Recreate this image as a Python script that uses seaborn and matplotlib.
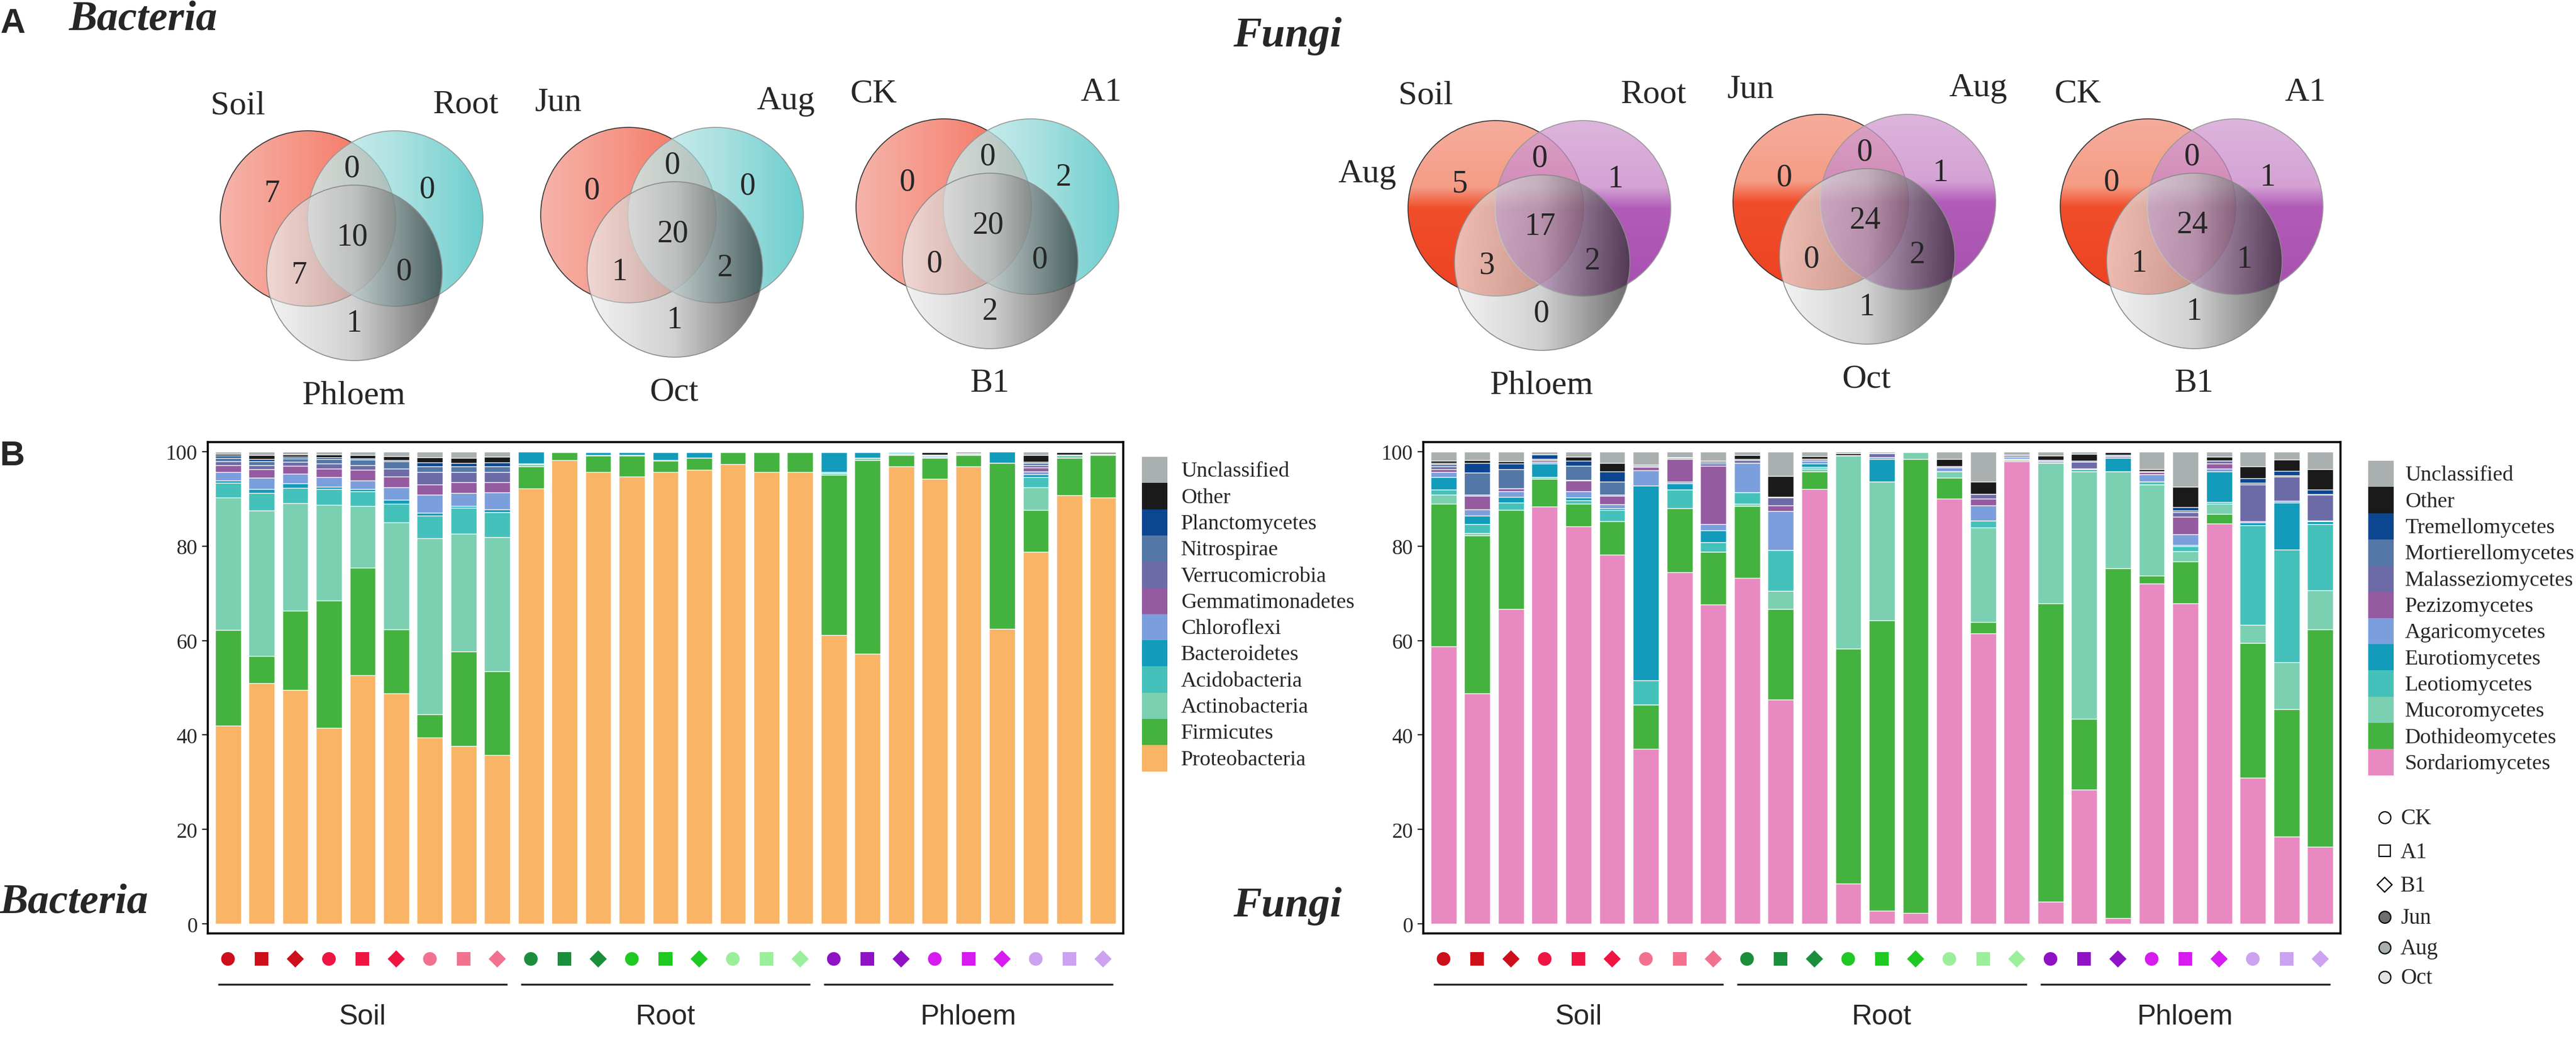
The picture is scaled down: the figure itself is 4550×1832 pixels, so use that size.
import numpy as np
import pandas as pd
import matplotlib
matplotlib.use("Agg")
import matplotlib.pyplot as plt
import seaborn as sns
from matplotlib.patches import Circle, Rectangle
from matplotlib.colors import LinearSegmentedColormap

# ---------------- sample design ----------------
tissues = ["Soil", "Root", "Phloem"]
months = ["Jun", "Aug", "Oct"]
treatments = ["CK", "A1", "B1"]

# ---------------- Venn counts ----------------
# order: left only, left&right, right only, all three, left&bottom, right&bottom, bottom only
bac_venn_labels = [["Soil", "Root", "Phloem"], ["Jun", "Aug", "Oct"], ["CK", "A1", "B1"]]
bac_venn_counts = [[7, 0, 0, 10, 7, 0, 1], [0, 0, 0, 20, 1, 2, 1], [0, 0, 2, 20, 0, 0, 2]]
fun_venn_labels = [["Soil", "Root", "Phloem"], ["Jun", "Aug", "Oct"], ["CK", "A1", "B1"]]
fun_venn_counts = [[5, 0, 1, 17, 3, 2, 0], [0, 0, 1, 24, 0, 2, 1], [0, 0, 1, 24, 1, 1, 1]]

# ---------------- bacteria relative abundance (%) ----------------
bac_taxa = ["Proteobacteria", "Firmicutes", "Actinobacteria", "Acidobacteria",
            "Bacteroidetes", "Chloroflexi", "Gemmatimonadetes", "Verrucomicrobia",
            "Nitrospirae", "Planctomycetes", "Other", "Unclassified"]
proteobacteria = [42.0, 51.0, 49.5, 41.5, 52.6, 48.8, 39.4, 37.6, 35.8,
                  92.2, 98.2, 95.6, 94.7, 95.6, 96.1, 97.3, 95.6, 95.7,
                  61.2, 57.2, 96.9, 94.2, 96.8, 62.5, 78.8, 90.7, 90.3]
firmicutes = [20.2, 5.7, 16.8, 27.0, 22.8, 13.6, 5.0, 20.1, 17.7,
              4.6, 1.6, 3.5, 4.4, 2.4, 2.6, 2.5, 4.2, 4.1,
              33.8, 41.0, 2.3, 4.4, 2.5, 35.1, 8.8, 8.0, 9.0]
actinobacteria = [28.1, 30.8, 22.8, 20.2, 13.1, 22.6, 37.2, 24.9, 28.4,
                  0.5, 0, 0, 0.2, 0.2, 0, 0, 0, 0,
                  0.4, 0.4, 0.3, 0.3, 0.2, 0, 4.8, 0.5, 0.2]
acidobacteria = [3.1, 3.7, 3.2, 3.4, 3.1, 4.0, 4.8, 5.5, 5.2,
                 0.2, 0, 0.2, 0, 0, 0, 0, 0, 0,
                 0.2, 0, 0.1, 0.2, 0, 0, 2.2, 0.1, 0]
bacteroidetes = [0.4, 0.8, 0.9, 0.4, 0.4, 0.8, 0.6, 0.4, 0.6,
                 2.5, 0, 0.5, 0.5, 1.6, 1.1, 0, 0, 0,
                 4.2, 1.2, 0.2, 0.2, 0, 2.4, 0.6, 0, 0]
chloroflexi = [1.9, 2.4, 2.1, 2.1, 1.8, 2.6, 3.8, 2.7, 3.6,
               0, 0, 0, 0, 0, 0, 0, 0, 0,
               0, 0, 0, 0, 0, 0, 0.6, 0, 0]
gemmatimonadetes = [1.4, 1.8, 1.7, 1.8, 2.3, 2.3, 2.2, 2.3, 2.2,
                    0, 0, 0, 0, 0, 0, 0, 0, 0,
                    0, 0, 0, 0, 0, 0, 0.8, 0, 0]
verrucomicrobia = [0.8, 0.9, 0.8, 1.1, 1.0, 1.7, 2.7, 2.2, 2.2,
                   0, 0, 0, 0, 0, 0, 0, 0, 0,
                   0, 0, 0, 0, 0, 0, 0.5, 0, 0]
nitrospirae = [0.8, 0.8, 0.7, 0.9, 1.2, 1.5, 1.1, 1.1, 1.2,
               0, 0, 0, 0, 0, 0, 0, 0, 0,
               0, 0, 0, 0, 0, 0, 0.5, 0, 0]
planctomycetes = [0.4, 0.5, 0.4, 0.4, 0.2, 0.3, 0.9, 0.8, 0.8,
                  0, 0, 0, 0, 0, 0, 0, 0, 0,
                  0, 0, 0, 0, 0, 0, 0.2, 0, 0]
bac_other = [0.4, 0.8, 0.5, 0.6, 0.7, 0.8, 1.1, 1.1, 1.2,
             0, 0, 0, 0, 0, 0, 0, 0, 0,
             0, 0, 0, 0.5, 0, 0, 1.4, 0.5, 0.4]
bac_unclassified = [0.5, 0.8, 0.6, 0.6, 0.8, 1.0, 1.2, 1.3, 1.1,
                    0, 0.2, 0.2, 0.2, 0.2, 0.2, 0.2, 0.2, 0.2,
                    0.2, 0.2, 0.2, 0.2, 0.5, 0, 0.8, 0.2, 0.1]

# ---------------- fungi relative abundance (%) ----------------
fun_taxa = ["Sordariomycetes", "Dothideomycetes", "Mucoromycetes", "Leotiomycetes",
            "Eurotiomycetes", "Agaricomycetes", "Pezizomycetes", "Malasseziomycetes",
            "Mortierellomycetes", "Tremellomycetes", "Other", "Unclassified"]
sordariomycetes = [58.7, 48.8, 66.6, 88.4, 84.2, 78.1, 37.1, 74.4, 67.6,
                   73.2, 47.5, 92.1, 8.5, 2.8, 2.3, 90.0, 61.5, 97.9,
                   4.7, 28.4, 1.2, 72.0, 67.9, 84.7, 30.9, 18.5, 16.3]
dothideomycetes = [30.2, 33.4, 21.0, 5.8, 4.8, 7.1, 9.3, 13.6, 11.2,
                   15.3, 19.2, 3.7, 49.8, 61.5, 96.1, 4.5, 2.4, 0.3,
                   63.1, 15.0, 74.1, 1.7, 8.8, 2.1, 28.6, 27.0, 46.0]
mucoromycetes = [2.0, 0.5, 0, 0.4, 0, 0, 0, 0, 0,
                 0.5, 3.8, 0.6, 40.8, 29.3, 1.4, 1.3, 20.0, 0.2,
                 29.8, 52.4, 20.5, 19.3, 2.2, 2.2, 3.8, 9.9, 8.3]
leotiomycetes = [1.0, 1.9, 1.6, 0, 0.6, 2.4, 5.2, 3.9, 2.0,
                 2.3, 8.6, 0.3, 0, 0, 0, 0, 1.5, 0,
                 0, 0.4, 0, 0.6, 1.1, 0.3, 21.1, 23.8, 14.0]
eurotiomycetes = [2.7, 1.8, 1.2, 2.8, 0.6, 0.4, 41.2, 1.3, 2.5,
                  0, 0, 0.7, 0, 4.8, 0, 0, 0, 0,
                  0, 0, 2.8, 0, 0.2, 6.5, 0.6, 10.0, 0.6]
agaricomycetes = [1.1, 1.4, 1.2, 0.4, 1.4, 0.8, 3.2, 0.4, 1.3,
                  6.3, 8.3, 0.6, 0, 0.4, 0, 0.8, 3.2, 0.5,
                  0.3, 0.2, 0.4, 1.6, 2.3, 0.6, 0, 0.3, 0.2]
pezizomycetes = [0.5, 2.8, 0.6, 0.4, 2.2, 1.8, 0.7, 4.8, 12.4,
                 0, 1.2, 0, 0, 0, 0, 0, 1.4, 0,
                 0, 0, 0, 0.4, 3.7, 1.1, 0.2, 0, 0]
malasseziomycetes = [0.6, 0.3, 0, 0.2, 0.2, 0.2, 0.3, 0.2, 0.4,
                     0.6, 1.6, 0.4, 0, 0.8, 0, 0.2, 1.0, 0.3,
                     0.3, 1.4, 0.3, 0.2, 1.0, 0.5, 7.8, 5.2, 5.4]
mortierellomycetes = [0.5, 4.6, 4.1, 0, 3.0, 2.8, 0, 0, 0.4,
                      0, 0.2, 0, 0, 0, 0, 0, 0, 0,
                      0, 0, 0, 0, 0.3, 0, 0.4, 0.2, 0.2]
tremellomycetes = [0.3, 2.1, 1.2, 1.0, 1.1, 2.2, 0, 0, 0,
                   0.2, 0, 0, 0, 0, 0, 0, 0, 0,
                   0, 0.3, 0, 0, 0.7, 0, 0.9, 1.0, 0.9]
fun_other = [0.4, 0.6, 0.4, 0, 0.8, 1.8, 0.2, 0.2, 0.2,
             0.8, 4.4, 0.6, 0.5, 0, 0, 1.6, 2.6, 0,
             0.9, 1.4, 0.5, 0.5, 4.3, 0.9, 2.5, 2.4, 4.4]
fun_unclassified = [2.0, 1.8, 2.1, 0.6, 1.1, 2.4, 2.8, 1.2, 2.0,
                    0.8, 5.2, 1.0, 0.4, 0.4, 0.2, 1.6, 6.4, 0.8,
                    0.9, 0.5, 0.2, 3.7, 7.5, 1.1, 3.2, 1.7, 3.7]

bac_values = [proteobacteria, firmicutes, actinobacteria, acidobacteria, bacteroidetes,
              chloroflexi, gemmatimonadetes, verrucomicrobia, nitrospirae,
              planctomycetes, bac_other, bac_unclassified]
fun_values = [sordariomycetes, dothideomycetes, mucoromycetes, leotiomycetes, eurotiomycetes,
              agaricomycetes, pezizomycetes, malasseziomycetes, mortierellomycetes,
              tremellomycetes, fun_other, fun_unclassified]

# ---------------- colours ----------------
shared_colors = ["#44B23F", "#7BD0B1", "#44C1BA", "#129BBA", "#7B9EDC", "#955BA0",
                 "#6D6BA7", "#5377A6", "#0D4690", "#1A1A1A", "#AAAFAF"]
bac_colors = ["#F9B466"] + shared_colors
fun_colors = ["#E88AC1"] + shared_colors
marker_colors = {"Soil": ["#CC0F1A", "#EE1543", "#F2718F"],
                 "Root": ["#1B8E3C", "#20C823", "#9BEF9B"],
                 "Phloem": ["#8F12C4", "#D61CEE", "#CBA3F0"]}
treat_markers = {"CK": "o", "A1": "s", "B1": "D"}

SERIF = ["Liberation Serif", "DejaVu Serif"]
SANS = ["Liberation Sans", "DejaVu Sans"]

sns.set_theme(style="white")
plt.rcParams["font.family"] = SERIF

# sample table
n = 27
samples = pd.DataFrame({
    "pos": np.arange(n),
    "tissue": [tissues[i // 9] for i in range(n)],
    "month": [months[(i // 3) % 3] for i in range(n)],
    "treat": [treatments[i % 3] for i in range(n)],
})
samples["key"] = samples["tissue"] + "_" + samples["month"]
key_palette = {f"{t}_{m}": marker_colors[t][j] for t in tissues for j, m in enumerate(months)}

fig = plt.figure(figsize=(45.5, 18.33), dpi=100)

# overlay axes in pixel coordinates for the Venn diagrams, legends and headings
ov = fig.add_axes([0, 0, 1, 1])
ov.set_zorder(0)

grey_cmap = LinearSegmentedColormap.from_list("g", ["#EFEFEF", "#BDBDBD", "#2E2E2E"])
bac_cmaps = [LinearSegmentedColormap.from_list("r", ["#F6B0A6", "#F58C7C", "#F5604B"]),
             LinearSegmentedColormap.from_list("t", ["#D2F0F0", "#97DADA", "#42C0C0"]),
             grey_cmap]
fun_cmaps = [LinearSegmentedColormap.from_list("fr", [(0, "#F6A897"), (0.38, "#F5977F"),
                                                      (0.5, "#F0441F"), (1, "#EE3816")]),
             LinearSegmentedColormap.from_list("fp", [(0, "#D3A0D3"), (0.38, "#C888C8"),
                                                      (0.5, "#9C2CA5"), (1, "#8E1E98")]),
             grey_cmap]

R = 155
circle_offsets = [(-78, -32), (76, -32), (4, 64)]
count_offsets = [(-142, -76), (0, -121), (133, -84), (0, 0), (-94, 68), (92, 61), (3, 153)]
label_offsets = [(-202, -232), (200, -234), (3, 280)]
alphas = [0.95, 0.78, 0.7]
edges = ["#333333", "#999999", "#8a8a8a"]


def draw_venn(anchor, counts, labels, cmaps, vertical):
    ax0, ay0 = anchor
    for k, (dx, dy) in enumerate(circle_offsets):
        cx, cy = ax0 + dx, ay0 + dy
        grad = np.linspace(0, 1, 256)
        img = grad[:, None] if (vertical and k < 2) else grad[None, :]
        im = ov.imshow(img, cmap=cmaps[k], extent=(cx - R, cx + R, cy + R, cy - R),
                       alpha=alphas[k], zorder=2 + k, aspect="auto", interpolation="bilinear")
        circ = Circle((cx, cy), R, facecolor="none", edgecolor=edges[k], lw=1.2, zorder=2 + k)
        ov.add_patch(circ)
        im.set_clip_path(circ)
    for c, (dx, dy) in zip(counts, count_offsets):
        ov.text(ax0 + dx, ay0 + dy, str(c), ha="center", va="center", fontsize=40, zorder=10)
    for lab, (dx, dy) in zip(labels, label_offsets):
        ov.text(ax0 + dx, ay0 + dy, lab, ha="center", va="center", fontsize=43, zorder=10)


bac_anchors = [(622, 419), (1188, 413), (1745, 398)]
fun_anchors = [(2720, 401), (3294, 390), (3872, 398)]
for a, c, l in zip(bac_anchors, bac_venn_counts, bac_venn_labels):
    draw_venn(a, c, l, bac_cmaps, vertical=False)
for a, c, l in zip(fun_anchors, fun_venn_counts, fun_venn_labels):
    draw_venn(a, c, l, fun_cmaps, vertical=True)
ov.text(2415, 308, "Aug", ha="center", va="center", fontsize=43, zorder=10)

# headings
ov.text(0, 42, "A", fontsize=44, fontweight="bold", family=SANS, va="center", ha="left")
ov.text(0, 806, "B", fontsize=44, fontweight="bold", family=SANS, va="center", ha="left")
ov.text(122, 52, "Bacteria", fontsize=54, fontweight="bold", style="italic", va="baseline")
ov.text(2178, 82, "Fungi", fontsize=54, fontweight="bold", style="italic", va="baseline")
ov.text(0, 1613, "Bacteria", fontsize=54, fontweight="bold", style="italic", va="baseline")
ov.text(2178, 1619, "Fungi", fontsize=54, fontweight="bold", style="italic", va="baseline")


def draw_taxa_legend(x0, y0, taxa, colors, gap):
    h, w = 46.3, 45
    for i, k in enumerate(range(len(taxa) - 1, -1, -1)):
        ov.add_patch(Rectangle((x0, y0 + i * h), w, h, facecolor=colors[k], edgecolor="none"))
        ov.text(x0 + w + gap, y0 + i * h + h / 2 + 2, taxa[k], va="center", ha="left", fontsize=27.5)


draw_taxa_legend(2017, 808, bac_taxa, bac_colors, 24)
draw_taxa_legend(4183, 815, fun_taxa, fun_colors, 20)

# shape / month key
key_labels = treatments + months
key_markers = ["o", "s", "D", "o", "o", "o"]
key_faces = ["white", "white", "white", "#6E6E6E", "#A9AEAE", "#E1E4E4"]
key_y = [1445, 1504, 1564, 1621, 1675, 1727]
for lab, mk, fc, y in zip(key_labels, key_markers, key_faces, key_y):
    ov.plot([4212], [y], marker=mk, ms=15 if mk != "D" else 13, mfc=fc, mec="black", mew=1.6, ls="")
    ov.text(4240, y + 2, lab, va="center", ha="left", fontsize=28)

ov.set_xlim(0, 4550)
ov.set_ylim(1833, 0)
ov.axis("off")


def draw_panel(rect, values, taxa, colors):
    ax = fig.add_axes(rect)
    ax.set_zorder(1)
    x = np.arange(n)
    cum = np.cumsum(np.array(values, dtype=float), axis=0)
    for k in range(len(taxa) - 1, -1, -1):
        sns.barplot(x=x, y=cum[k], color=colors[k], saturation=1, width=0.77, orient="x",
                    edgecolor="white", linewidth=1.0, errorbar=None, ax=ax)
    # sample symbols under the bars
    for tr in treatments:
        sub = samples[samples["treat"] == tr]
        sns.scatterplot(data=sub, x="pos", y=np.full(len(sub), -7.4), hue="key",
                        palette=key_palette, marker=treat_markers[tr],
                        s=300 if tr != "B1" else 240, edgecolor="none",
                        legend=False, ax=ax, clip_on=False)
    # group lines and names
    for g, t in enumerate(tissues):
        ax.plot([g * 9 - 0.3, g * 9 + 8.3], [-12.8, -12.8], color="#222222", lw=2.4,
                clip_on=False, solid_capstyle="butt")
        ax.text(g * 9 + 4, -19.6, t, ha="center", va="center", fontsize=36, family=SANS)
    ax.set_xlim(-0.6, 26.6)
    ax.set_ylim(-2, 102)
    ax.set_xticks([])
    ax.set_yticks(range(0, 101, 20))
    ax.set_xlabel("")
    ax.set_ylabel("")
    ax.tick_params(axis="y", left=True, labelsize=27, length=7, width=1.6, pad=6, direction="out")
    for s in ax.spines.values():
        s.set_visible(True)
        s.set_color("black")
        s.set_linewidth(2.6)
    return ax


W, H = 4550, 1833
draw_panel([367 / W, (H - 1650) / H, 1617 / W, 868 / H], bac_values, bac_taxa, bac_colors)
draw_panel([2514 / W, (H - 1650) / H, 1620 / W, 868 / H], fun_values, fun_taxa, fun_colors)

fig.savefig("out.png", dpi=100, facecolor="white")
